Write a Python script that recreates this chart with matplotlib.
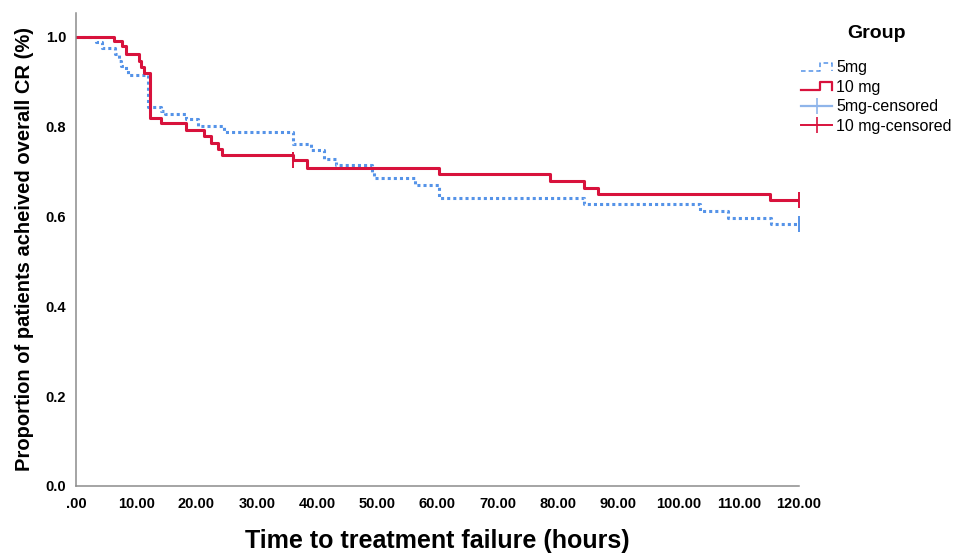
import matplotlib
matplotlib.use("Agg")
import matplotlib.pyplot as plt
from matplotlib.lines import Line2D
from matplotlib.legend_handler import HandlerBase

# -------------------- data --------------------
times_5mg = [0, 3.3, 4.4, 6.4, 7.2, 7.5, 8.3, 8.6, 12.0, 14.1, 14.8, 18.3, 20.2, 24.6,
             36.1, 39.0, 41.2, 43.2, 49.2, 49.5, 56.2, 60.3, 84.3, 103.5, 108.2, 115.4, 120]
surv_5mg = [1.0, 0.988, 0.975, 0.962, 0.947, 0.936, 0.925, 0.916, 0.844, 0.834, 0.829, 0.818,
            0.802, 0.787, 0.762, 0.747, 0.729, 0.714, 0.699, 0.686, 0.670, 0.641, 0.627,
            0.613, 0.597, 0.583, 0.583]

times_10mg = [0, 6.3, 7.7, 8.3, 10.4, 10.8, 11.3, 12.3, 14.1, 18.3, 21.3, 22.4, 23.5, 24.3,
              36.0, 38.3, 60.3, 78.7, 84.3, 86.7, 115.2, 120]
surv_10mg = [1.0, 0.990, 0.979, 0.962, 0.947, 0.933, 0.920, 0.820, 0.807, 0.792, 0.779, 0.764,
             0.751, 0.736, 0.725, 0.708, 0.695, 0.679, 0.664, 0.651, 0.636, 0.636]

cens_5mg_t = [120]
cens_5mg_s = [0.583]
cens_10mg_t = [36.0, 120]
cens_10mg_s = [0.725, 0.636]

x_ticks = [0, 10, 20, 30, 40, 50, 60, 70, 80, 90, 100, 110, 120]
x_labels = [".00", "10.00", "20.00", "30.00", "40.00", "50.00", "60.00",
            "70.00", "80.00", "90.00", "100.00", "110.00", "120.00"]
y_ticks = [0.0, 0.2, 0.4, 0.6, 0.8, 1.0]

labels = ["5mg", "10 mg", "5mg-censored", "10 mg-censored"]

BLUE = "#5593e8"
BLUE_LIGHT = "#8fb5ea"
RED = "#d8123c"

plt.rcParams['font.family'] = ['Liberation Sans', 'DejaVu Sans']


# -------------------- step icon for legend --------------------
class StepHandler(HandlerBase):
    def create_artists(self, legend, orig_handle, xdescent, ydescent,
                       width, height, fontsize, trans):
        x0 = -xdescent
        lo = -ydescent + 0.15 * height
        hi = -ydescent + 0.85 * height
        xs = [x0, x0 + 0.6 * width, x0 + 0.6 * width, x0 + width, x0 + width]
        ys = [lo, lo, hi, hi, lo]
        line = Line2D(xs, ys)
        line.update_from(orig_handle)
        line.set_transform(trans)
        return [line]


# -------------------- plot --------------------
fig = plt.figure(figsize=(9.57, 5.53), dpi=100)
ax = fig.add_axes([0.0794, 0.1212, 0.7555, 0.8553])

ax.step(times_5mg, surv_5mg, where='post', color=BLUE, lw=2.2,
        linestyle=(0, (1, 1)), dash_capstyle='butt')
ax.step(times_10mg, surv_10mg, where='post', color=RED, lw=2.2)
ax.plot(cens_5mg_t, cens_5mg_s, linestyle='none', marker='|', ms=11, mew=1.4, color=BLUE)
ax.plot(cens_10mg_t, cens_10mg_s, linestyle='none', marker='|', ms=11, mew=1.4, color=RED)

ax.set_xlim(0, 120)
ax.set_ylim(0, 1.053)
ax.set_xticks(x_ticks)
ax.set_xticklabels(x_labels)
ax.set_yticks(y_ticks)
ax.set_yticklabels([f"{v:.1f}" for v in y_ticks])
ax.tick_params(length=0, labelsize=10.5)
ax.tick_params(axis='x', pad=8)
ax.tick_params(axis='y', pad=7)
for lab in ax.get_xticklabels() + ax.get_yticklabels():
    lab.set_fontweight('bold')

for side in ['top', 'right']:
    ax.spines[side].set_visible(False)
for side in ['left', 'bottom']:
    ax.spines[side].set_color('#8c8c8c')
    ax.spines[side].set_linewidth(1.1)

ax.set_ylabel("Proportion of patients acheived overall CR (%)", fontsize=14.5,
              fontweight='bold', labelpad=8.5)
ax.set_xlabel("Time to treatment failure (hours)", fontsize=18,
              fontweight='bold', labelpad=13)

# legend
h_5 = Line2D([], [], color=BLUE, lw=1.1, linestyle=(0, (3, 2)))
h_10 = Line2D([], [], color=RED, lw=1.6)
h_5c = Line2D([], [], color=BLUE_LIGHT, lw=1.6, marker='|', ms=12, mew=1.2)
h_10c = Line2D([], [], color=RED, lw=1.4, marker='|', ms=12, mew=1.2)
leg = fig.legend([h_5, h_10, h_5c, h_10c], labels,
                 handler_map={h_5: StepHandler(), h_10: StepHandler()},
                 loc='upper left', bbox_to_anchor=(0.837, 0.954),
                 frameon=False, fontsize=11.5, title="Group",
                 handlelength=1.95, handletextpad=0.25, labelspacing=0.28,
                 borderpad=0, borderaxespad=0)
leg.get_title().set_fontweight('bold')
leg.get_title().set_fontsize(14)
leg._legend_box.sep = 13

fig.savefig("out.png", dpi=100)
